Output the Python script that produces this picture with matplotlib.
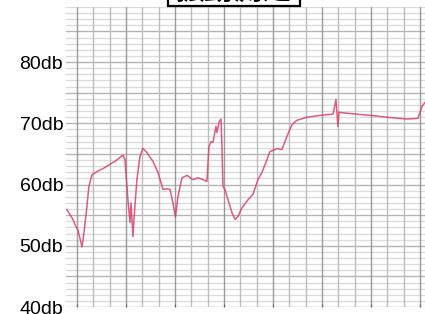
import numpy as np
import matplotlib
matplotlib.use("Agg")
import matplotlib.pyplot as plt
from matplotlib.patches import Rectangle

plt.rcParams['font.family'] = ['Liberation Sans', 'Noto Sans CJK JP', 'DejaVu Sans']

# recorder trace, x in chart-grid divisions, level in dB
t = [-0.61, -0.43, -0.24, -0.06, 0.06, 0.31, 0.43, 0.61, 0.73, 0.92, 1.22, 1.59, 2.02, 2.33,
     2.82, 2.94, 3.12, 3.25, 3.31, 3.43, 3.49, 3.67, 3.86, 4.04, 4.29, 4.65, 4.96, 5.27,
     5.51, 5.70, 5.88, 6.03, 6.18, 6.43, 6.74, 7.10, 7.41, 7.72, 7.96, 8.08, 8.21, 8.33,
     8.51, 8.57, 8.70, 8.82, 8.88, 8.94, 9.06, 9.25, 9.49, 9.68, 9.86, 10.10, 10.47, 10.78,
     11.08, 11.33, 11.64, 11.82, 12.12, 12.25, 12.55, 12.86, 13.17, 13.47, 14.08, 14.88,
     15.68, 15.86, 15.98, 16.04, 16.72, 17.94, 18.98, 20.21, 20.88, 21.13, 21.31]
db = [55.9, 55.1, 54.3, 53.1, 52.6, 49.8, 52.1, 56.4, 59.7, 61.6, 62.1, 62.6, 63.3, 63.8,
      64.8, 64.1, 57.5, 53.8, 57.0, 51.5, 54.3, 60.8, 64.6, 65.9, 65.2, 63.8, 62.0, 59.2,
      59.3, 59.2, 57.0, 54.7, 58.0, 61.1, 61.5, 60.8, 61.1, 60.8, 60.5, 66.2, 67.0, 66.9,
      69.5, 68.5, 70.2, 70.7, 66.2, 59.7, 59.2, 57.5, 55.4, 54.3, 54.8, 56.2, 57.5, 58.4,
      60.8, 62.0, 64.1, 65.4, 65.7, 65.9, 65.7, 67.9, 69.8, 70.5, 71.0, 71.3,
      71.5, 73.9, 69.5, 71.8, 71.6, 71.3, 71.0, 70.7, 70.8, 72.8, 73.4]

yticks = [40, 50, 60, 70, 80]
ylabels = ['40db', '50db', '60db', '70db', '80db']
title = '振動測定'

fig = plt.figure(figsize=(4.25, 3.14), dpi=100)
ax = fig.add_axes([66/425, 7/314, 359/425, 300/314])

# chart paper grid
for v in np.arange(40, 90):
    c = '#b4b4b4' if v % 5 == 0 else '#dcdcdc'
    ax.axhline(v, color=c, lw=1.0, zorder=1)
for v in range(0, 22):
    c = '#9a9a9a' if v % 3 == 0 else '#bdbdbd'
    ax.axvline(v, color=c, lw=1.0, zorder=1)

ax.plot(t, db, color='#d9406a', lw=1.1, alpha=0.85, zorder=3)

ax.set_xlim(-0.67, 21.31)
ax.set_ylim(40, 89)
ax.set_yticks(yticks)
ax.set_yticklabels(ylabels, fontsize=14)
ax.set_xticks(range(0, 22, 3))
ax.set_xticklabels([])
ax.tick_params(axis='y', length=0, pad=2)
ax.tick_params(axis='x', length=2, direction='in', color='#666666')
for s in ax.spines.values():
    s.set_visible(False)

# title box, mostly cut off at the top as in the scan
fig.patches.append(Rectangle((168/425, 1 - 6/314), 132/425, 30/314, transform=fig.transFigure,
                             fc='white', ec='black', lw=1.6, zorder=5))
fig.text(234/425, 1 + 1/314, title, fontsize=21, ha='center', va='baseline',
         fontweight='bold', zorder=6)

fig.savefig('out.png', dpi=100)
